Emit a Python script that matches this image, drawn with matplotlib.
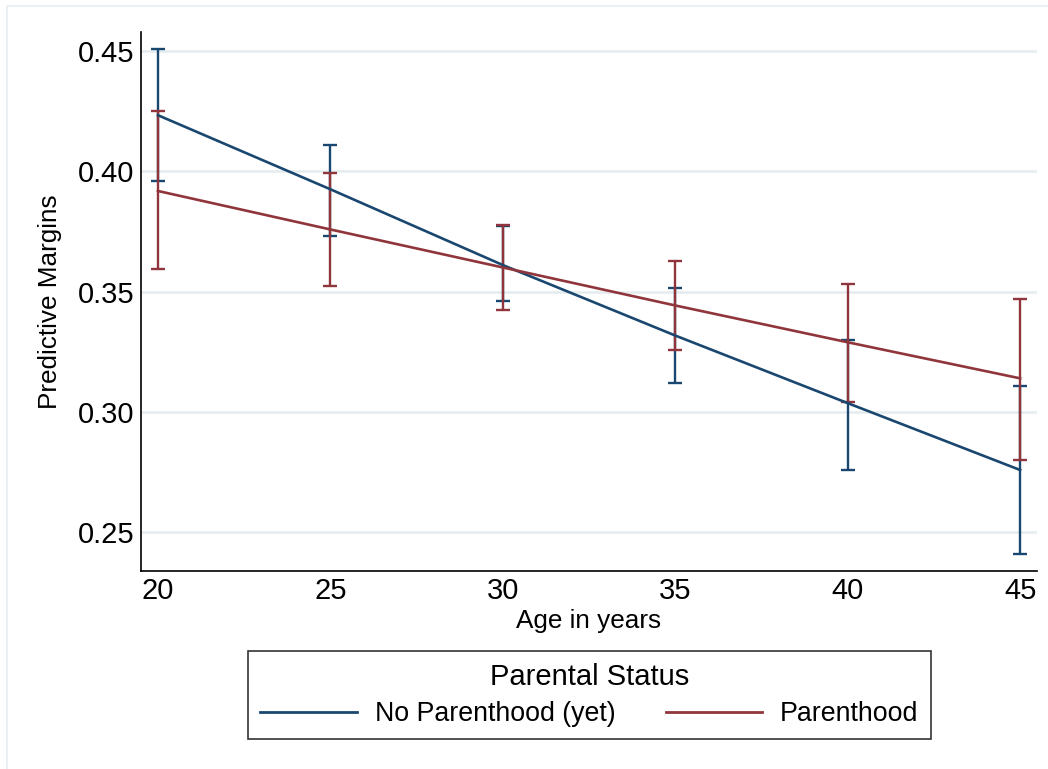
import matplotlib
matplotlib.use("Agg")
import matplotlib.pyplot as plt
from matplotlib.patches import Rectangle

plt.rcParams['font.family'] = ['Liberation Sans', 'DejaVu Sans']

ages = [20, 25, 30, 35, 40, 45]
no_parent = [0.4233, 0.3925, 0.3610, 0.3317, 0.3036, 0.2758]
no_parent_lo = [0.3958, 0.3730, 0.3460, 0.3120, 0.2756, 0.2407]
no_parent_hi = [0.4508, 0.4108, 0.3772, 0.3513, 0.3300, 0.3107]
parent = [0.3918, 0.3758, 0.3600, 0.3442, 0.3289, 0.3139]
parent_lo = [0.3595, 0.3525, 0.3425, 0.3257, 0.3039, 0.2800]
parent_hi = [0.4249, 0.3992, 0.3775, 0.3625, 0.3533, 0.3468]
yticks = [0.25, 0.30, 0.35, 0.40, 0.45]
ytick_labels = ["0.25", "0.30", "0.35", "0.40", "0.45"]
xticks = [20, 25, 30, 35, 40, 45]
series_names = ["No Parenthood (yet)", "Parenthood"]
legend_title = "Parental Status"

BLUE = "#1a476f"
RED = "#90353b"
GRID = "#e4ecef"

W, H = 1048, 769
fig = plt.figure(figsize=(W / 100, H / 100), dpi=100)
fig.patch.set_facecolor("white")

# outer light frame
fig.patches.append(Rectangle((7 / W, -0.01), 1.02, (H - 6) / H + 0.01, transform=fig.transFigure,
                             fill=False, edgecolor="#e6eef2", linewidth=1.2))

ax = fig.add_axes([141 / W, 1 - 571 / H, (1037 - 141) / W, (571 - 32) / H])
ax.set_xlim(19.507, 45.49)
ax.set_ylim(0.2338, 0.4579)

for sp in ["top", "right"]:
    ax.spines[sp].set_visible(False)
for sp in ["left", "bottom"]:
    ax.spines[sp].set_color("black")
    ax.spines[sp].set_linewidth(1.2)

ax.set_yticks(yticks)
ax.set_yticklabels(ytick_labels)
ax.set_xticks(xticks)
ax.tick_params(axis="both", length=0, labelsize=21, colors="black")
ax.tick_params(axis="y", pad=5)
ax.tick_params(axis="x", pad=4)
ax.yaxis.grid(True, color=GRID, linewidth=1.8)
ax.set_axisbelow(True)

def err(vals, lo, hi):
    return [[v - l for v, l in zip(vals, lo)], [h - v for v, h in zip(vals, hi)]]

ax.errorbar(ages, no_parent, yerr=err(no_parent, no_parent_lo, no_parent_hi), fmt="none",
            ecolor=BLUE, elinewidth=1.7, capsize=4.8, capthick=1.7, zorder=2)
ax.errorbar(ages, parent, yerr=err(parent, parent_lo, parent_hi), fmt="none",
            ecolor=RED, elinewidth=1.7, capsize=4.8, capthick=1.7, zorder=2)
l1, = ax.plot(ages, no_parent, color=BLUE, linewidth=1.9, zorder=3, label=series_names[0])
l2, = ax.plot(ages, parent, color=RED, linewidth=1.9, zorder=3, label=series_names[1])

ax.set_ylabel("Predictive Margins", fontsize=18.8, labelpad=11)
ax.set_xlabel("Age in years", fontsize=18.8, labelpad=3)

leg = fig.legend(handles=[l1, l2], labels=series_names, title=legend_title, ncol=2,
                 loc="center", bbox_to_anchor=(589.5 / W, 1 - 695 / H),
                 fontsize=19.3, title_fontsize=21, frameon=True, fancybox=False,
                 handlelength=3.6, handletextpad=0.67, columnspacing=1.87,
                 borderpad=0.45, borderaxespad=0, labelspacing=0.4)
leg.get_frame().set_edgecolor("black")
leg.get_frame().set_linewidth(1.2)
for h in leg.legend_handles:
    h.set_linewidth(2.0)

fig.savefig("out.png", dpi=100, facecolor="white")
